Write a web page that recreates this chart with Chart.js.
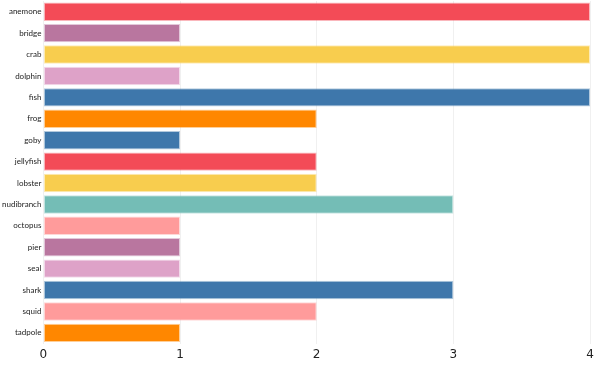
<!DOCTYPE html>
<html>
<head>
<meta charset="utf-8">
<script src="https://cdn.jsdelivr.net/npm/chart.js@4"></script>
<style>
  html, body { margin: 0; padding: 0; background: #fff; }
  #wrap { width: 600px; height: 366px; }
</style>
</head>
<body>
<div id="wrap"><canvas id="myChart" width="600" height="366"></canvas></div>
<script>
const categories = ['anemone', 'bridge', 'crab', 'dolphin', 'fish', 'frog', 'goby', 'jellyfish',
    'lobster', 'nudibranch', 'octopus', 'pier', 'seal', 'shark', 'squid', 'tadpole'];
const counts = [4, 1, 4, 1, 4, 2, 1, 2, 2, 3, 1, 1, 1, 3, 2, 1];
const barColors = ['#f34b57', '#b9769f', '#f8cd4e', '#dea2c8', '#3e77ab', '#ff8700', '#3e77ab', '#f34b57',
    '#f8cd4e', '#74bdb6', '#ff9b9b', '#b9769f', '#dea2c8', '#3e77ab', '#ff9b9b', '#ff8700'];
const xTicks = [0, 1, 2, 3, 4];

document.addEventListener('DOMContentLoaded', function() {
    const ctx = document.getElementById('myChart');

    new Chart(ctx, {
        type: 'bar',
        data: {
            labels: categories,
            datasets: [{
                data: counts,
                backgroundColor: barColors,
                borderColor: barColors.map(c => c + '66'),
                borderWidth: 1,
                borderSkipped: false,
                barPercentage: 0.86,
                categoryPercentage: 1
            }]
        },
        options: {
            indexAxis: 'y',
            responsive: false,
            maintainAspectRatio: false,
            animation: { duration: 0 },
            layout: { padding: { left: 0, right: 10, top: 1, bottom: 0 } },
            scales: {
                x: {
                    min: 0,
                    max: 4,
                    afterBuildTicks: function(axis) {
                        axis.ticks = xTicks.map(v => ({ value: v }));
                    },
                    grid: { color: '#f0f0f0', drawTicks: false },
                    border: { display: false },
                    ticks: {
                        color: '#222',
                        padding: 4,
                        font: { family: 'DejaVu Sans', size: 12 }
                    }
                },
                y: {
                    afterFit: function(axis) {
                        // no extra room for the first/last label
                        axis.paddingTop = 0;
                        axis.paddingBottom = 0;
                    },
                    grid: { display: false, drawTicks: false },
                    border: { display: false },
                    ticks: {
                        color: '#222',
                        padding: 2,
                        font: { family: 'Lato', size: 8 }
                    }
                }
            },
            plugins: {
                legend: { display: false },
                tooltip: { enabled: false }
            }
        }
    });
});
</script>
</body>
</html>
